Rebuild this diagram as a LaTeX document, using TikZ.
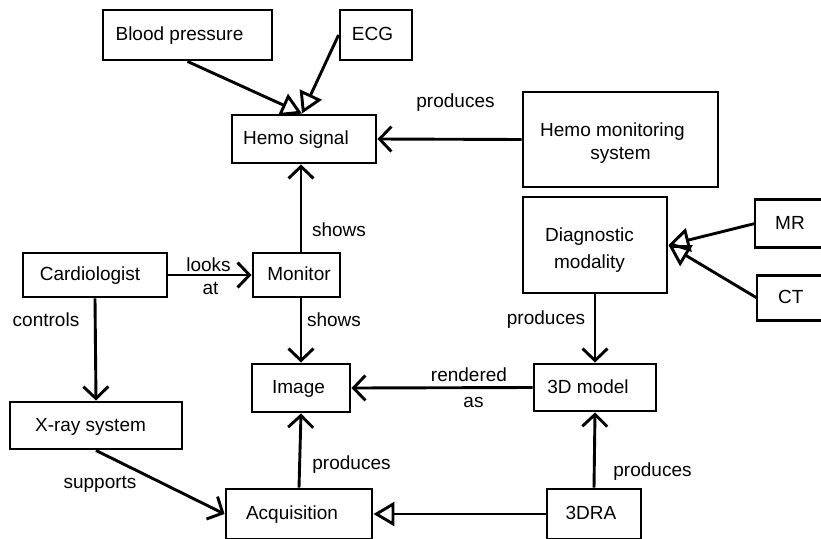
\documentclass[tikz,border=0pt]{standalone}
\usepackage{fontspec}
\setmainfont{Liberation Sans}
\usetikzlibrary{arrows.meta}

\tikzset{
  box/.style={draw, line width=2.9pt, inner sep=0pt, text height=14pt, text depth=3pt,
              font=\fontsize{19}{23}\selectfont},
  mbox/.style={draw, line width=2.9pt, inner sep=0pt, align=center},
  tx/.style={execute at begin node={\hspace*{#1}}},
  lbl/.style={inner sep=0pt, font=\fontsize{19}{23}\selectfont},
  conn/.style={line width=2.9pt},
  arr/.style={conn, -{Straight Barb[length=12pt,width=25pt]}},
  gen/.style={conn, -{Triangle[open,length=21pt,width=24pt]}},
  % boxes that run on past the right edge of the page
  openbox/.style={inner sep=0pt, text height=14pt, text depth=3pt,
              font=\fontsize{19}{23}\selectfont, anchor=west, minimum height=#1}
}

\begin{document}
\begin{tikzpicture}[x=1pt,y=-1pt]
\useasboundingbox (0,0) rectangle (821,538);
\clip (0,0) rectangle (821,538);

% classes
\node[box, tx=-16pt, minimum width=169pt, minimum height=50pt] (bp)   at (187.5,35)  {Blood pressure};
\node[box, tx=-7pt,  minimum width=72pt,  minimum height=50pt] (ecg)  at (376,35)    {ECG};
\node[box, tx=-16pt, minimum width=144pt, minimum height=48pt] (hemo) at (304,139)   {Hemo signal};
\node[mbox, minimum width=195pt, minimum height=95pt, font=\fontsize{19}{23}\selectfont]
      (hms) at (620.5,139.5) {\rule{0pt}{20pt}\hspace*{-16pt}Hemo monitoring\\system};
\node[mbox, minimum width=144pt, minimum height=96pt, font=\fontsize{19}{27}\selectfont]
      (diag) at (595,245) {\rule{0pt}{24pt}\hspace*{-11pt}Diagnostic\\\hspace*{-11pt}modality};

\node[openbox=47pt, text width=100pt] (mr) at (755,223.5) {\hspace*{20pt}MR};
\draw[line width=2.9pt] (mr.north east) -- (mr.north west) -- (mr.south west) -- (mr.south east);
\node[openbox=44pt, text width=100pt] (ct) at (757,298) {\hspace*{21pt}CT};
\draw[line width=2.9pt] (ct.north east) -- (ct.north west) -- (ct.south west) -- (ct.south east);

\node[box, tx=-10pt, minimum width=144pt, minimum height=44pt] (card) at (95,275)    {Cardiologist};
\node[box, tx=5pt,   minimum width=87pt,  minimum height=44pt] (mon)  at (296.5,275) {Monitor};
\node[box, tx=-5pt,  minimum width=98pt,  minimum height=48pt] (img)  at (301,388)   {Image};
\node[box, tx=-14pt, minimum width=122pt, minimum height=47pt] (model) at (595,387.5) {3D model};
\node[box, tx=-11pt, minimum width=172pt, minimum height=47pt] (xray) at (96,425.5)  {X-ray system};
\node[box, tx=-14pt, minimum width=146pt, minimum height=50pt] (acq)  at (299,514)   {Acquisition};
\node[box, tx=-6pt,  minimum width=94pt,  minimum height=50pt] (dra)  at (594,514)   {3DRA};

% generalisations
\draw[gen] (bp.south) -- ([xshift=-2pt]hemo.north);
\draw[gen] (ecg.west) -- ([xshift=-2pt]hemo.north);
\draw[gen] (mr.west) -- (diag.east);
\draw[gen] (ct.west) -- (diag.east);
\draw[gen] (dra.west) -- (acq.east);

% associations
\draw[arr] (hms.west) -- (hemo.east);
\draw[arr] (mon.north -| img.north) -- (hemo.south -| img.north);
\draw[arr] (card.east) -- (mon.west);
\draw[arr] (mon.south -| img.north) -- (img.north);
\draw[arr] (card.south) -- (xray.north);
\draw[arr] (xray.south) -- (acq.west);
\draw[arr] (acq.north) -- (img.south);
\draw[arr] (model.west) -- (img.east);
\draw[arr] (diag.south) -- (model.north);
\draw[arr] (dra.north) -- (model.south);

% association names
\node[lbl] (l1)  at (455.5,103) {produces};
\node[lbl] (l2)  at (339,230)   {shows};
\node[lbl] (l3a) at (208.5,265) {looks};
\node[lbl] (l3b) at (210.5,288) {at};
\node[lbl] (l4)  at (334,320)   {shows};
\node[lbl] (l5)  at (46,320)    {controls};
\node[lbl] (l6)  at (100,484)   {supports};
\node[lbl] (l7)  at (351.5,465) {produces};
\node[lbl] (l8a) at (469,375)   {rendered};
\node[lbl] (l8b) at (473.5,402) {as};
\node[lbl] (l9)  at (546,320)   {produces};
\node[lbl] (l10) at (652.5,472) {produces};
\end{tikzpicture}
\end{document}
